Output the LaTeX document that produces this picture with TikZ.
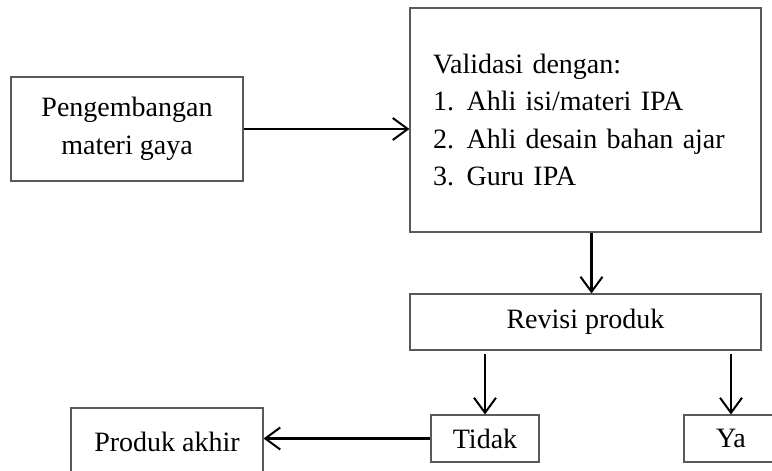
\documentclass[tikz,border=0pt]{standalone}
\usepackage{fontspec}
\setmainfont{Liberation Serif}
\usetikzlibrary{arrows.meta,positioning}

\begin{document}
\begin{tikzpicture}[
  x=0.5pt,
  y=-0.5pt,
  every node/.style={
    rectangle,
    draw=black!65,
    line width=0.55pt,
    inner sep=0pt,
    align=center,
    font=\fontsize{14}{18.8}\selectfont
  },
  flow/.style={
    -{Straight Barb[length=7.5pt,width=11pt,line width=1pt]},
    draw=black,
    line width=1.05pt
  },
  startbox/.style={
    minimum width=116pt,
    minimum height=52pt
  },
  listbox/.style={
    minimum width=175.5pt,
    minimum height=112pt,
    text width=152.5pt,
    align=left
  },
  revbox/.style={
    minimum width=175.5pt,
    minimum height=28pt
  },
  answer/.style={
    minimum height=23.5pt
  },
  endbox/.style={
    minimum width=96pt,
    minimum height=34pt
  }
]

\clip (0,0) rectangle (772,471);

% Top row
\node[startbox] (develop) at (127,129) {Pengembangan\\materi gaya};
\node[listbox]  (validate) at (585.5,120) {Validasi dengan:\\
  \makebox[1.2em][l]{1.}Ahli isi/materi IPA\\
  \makebox[1.2em][l]{2.}Ahli desain bahan ajar\\
  \makebox[1.2em][l]{3.}Guru IPA};

% Revision and decision
\node[revbox] (revise) at (585.5,322) {Revisi produk};
\node[answer, minimum width=54pt] (no)  at (485,438.5) {Tidak};
\node[answer, minimum width=47pt] (yes) at (731,438.5) {Ya};

% Final product
\node[endbox] (final) at (167,442) {Produk akhir};

% Connectors
\draw[flow] (develop.east) -- (develop.east -| validate.west);
\draw[flow] ([xshift=3pt]validate.south) -- ([xshift=3pt]revise.north);
\draw[flow] ([yshift=-1.5pt]revise.south -| no) -- (no.north);
\draw[flow] ([yshift=-1.5pt]revise.south -| yes) -- (yes.north);
\draw[flow] (no.west) -- (no.west -| final.east);

\end{tikzpicture}
\end{document}
